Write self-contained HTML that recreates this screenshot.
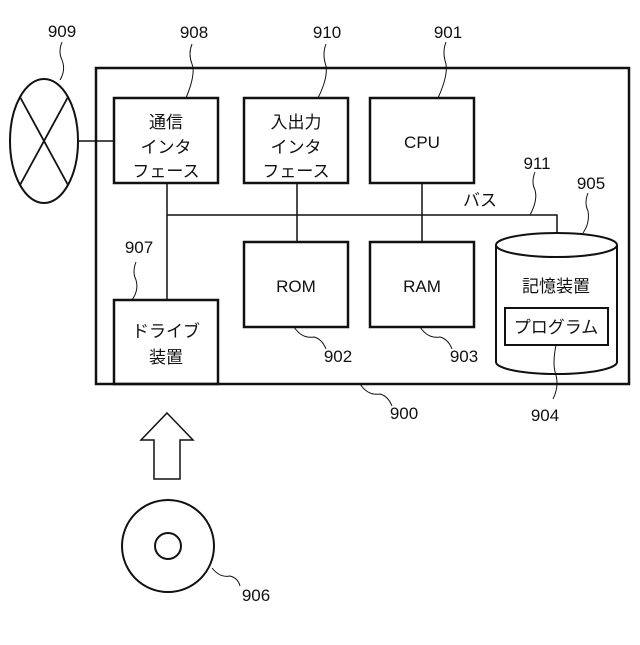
<!DOCTYPE html>
<html><head><meta charset="utf-8"><style>
body{margin:0;background:#fff}
svg text{font-family:"Liberation Sans","Noto Sans CJK JP",sans-serif;font-size:17px;fill:#111}
</style></head><body>
<svg width="640" height="640" viewBox="0 0 640 640" xmlns="http://www.w3.org/2000/svg">
<g fill="none" stroke="#111">
<rect x="96" y="68" width="533" height="316" stroke-width="2.5"/>
<rect x="114" y="98" width="104" height="85" stroke-width="2.5"/>
<rect x="244" y="98" width="104" height="85" stroke-width="2.5"/>
<rect x="370" y="98" width="104" height="85" stroke-width="2.5"/>
<rect x="244" y="242" width="104" height="85" stroke-width="2.5"/>
<rect x="370" y="242" width="104" height="85" stroke-width="2.5"/>
<rect x="114" y="300" width="104" height="84" stroke-width="2.5"/>
<g stroke-width="1.5">
<polyline points="167,183 167,300"/>
<polyline points="167,215 557,215 557,233"/>
<line x1="297" y1="183" x2="297" y2="242"/>
<line x1="422" y1="183" x2="422" y2="242"/>
<line x1="78" y1="141" x2="114" y2="141"/>
</g>
<path d="M496,245 A60.5,12 0 0 1 617,245 L617,362 A60.5,12 0 0 1 496,362 Z" stroke-width="2" fill="#fff"/>
<path d="M496,245 A60.5,12 0 0 0 617,245" stroke-width="2"/>
<rect x="505" y="308" width="103" height="37" stroke-width="2"/>
<ellipse cx="44" cy="141" rx="34" ry="62" stroke-width="2"/>
<line x1="20" y1="97" x2="68" y2="185" stroke-width="1.8"/>
<line x1="68" y1="97" x2="20" y2="185" stroke-width="1.8"/>
<polygon points="167,413 193,440 180,440 180,479 154,479 154,440 141,440" stroke-width="1.5"/>
<circle cx="168" cy="546" r="46" stroke-width="2"/>
<circle cx="168" cy="546" r="13" stroke-width="2"/>
<g stroke-width="1">
<path d="M62,42 q-4,10 0,18 q4,10 -2,20"/>
<path d="M192,44 q-4,10 0,20 q4,10 -6,34"/>
<path d="M326,44 q-4,10 0,22 q2,12 -8,32"/>
<path d="M446,42 q-4,10 0,22 q2,12 -8,34"/>
<path d="M535,172 q-4,10 0,18 q3,10 -5,25"/>
<path d="M588,193 q-4,10 0,18 q2,12 -5,22"/>
<path d="M136,262 q-4,10 0,18 q3,10 -4,20"/>
<path d="M294,327 q8,12 20,10 q8,2 12,12"/>
<path d="M420,327 q8,12 20,10 q8,2 12,12"/>
<path d="M360,384 q8,12 20,10 q8,2 12,12"/>
<path d="M556,345 q-4,20 0,30 q3,12 -3,24"/>
<path d="M212,568 q8,10 18,8 q8,2 10,10"/>
</g>
</g>
<text x="62" y="37" text-anchor="middle">909</text>
<text x="194" y="38" text-anchor="middle">908</text>
<text x="327" y="38" text-anchor="middle">910</text>
<text x="448" y="38" text-anchor="middle">901</text>
<text x="537" y="169" text-anchor="middle">911</text>
<text x="591" y="189" text-anchor="middle">905</text>
<text x="139" y="253" text-anchor="middle">907</text>
<text x="480" y="206" text-anchor="middle">バス</text>
<text x="166" y="128" text-anchor="middle">通信</text>
<text x="166" y="153" text-anchor="middle">インタ</text>
<text x="166" y="177" text-anchor="middle">フェース</text>
<text x="296" y="128" text-anchor="middle">入出力</text>
<text x="296" y="153" text-anchor="middle">インタ</text>
<text x="296" y="177" text-anchor="middle">フェース</text>
<text x="422" y="148" text-anchor="middle">CPU</text>
<text x="296" y="292" text-anchor="middle">ROM</text>
<text x="422" y="292" text-anchor="middle">RAM</text>
<text x="166" y="337" text-anchor="middle">ドライブ</text>
<text x="166" y="363" text-anchor="middle">装置</text>
<text x="556" y="292" text-anchor="middle">記憶装置</text>
<text x="556" y="333" text-anchor="middle">プログラム</text>
<text x="338" y="362" text-anchor="middle">902</text>
<text x="464" y="362" text-anchor="middle">903</text>
<text x="404" y="419" text-anchor="middle">900</text>
<text x="545" y="421" text-anchor="middle">904</text>
<text x="256" y="601" text-anchor="middle">906</text>
</svg>
</body></html>
